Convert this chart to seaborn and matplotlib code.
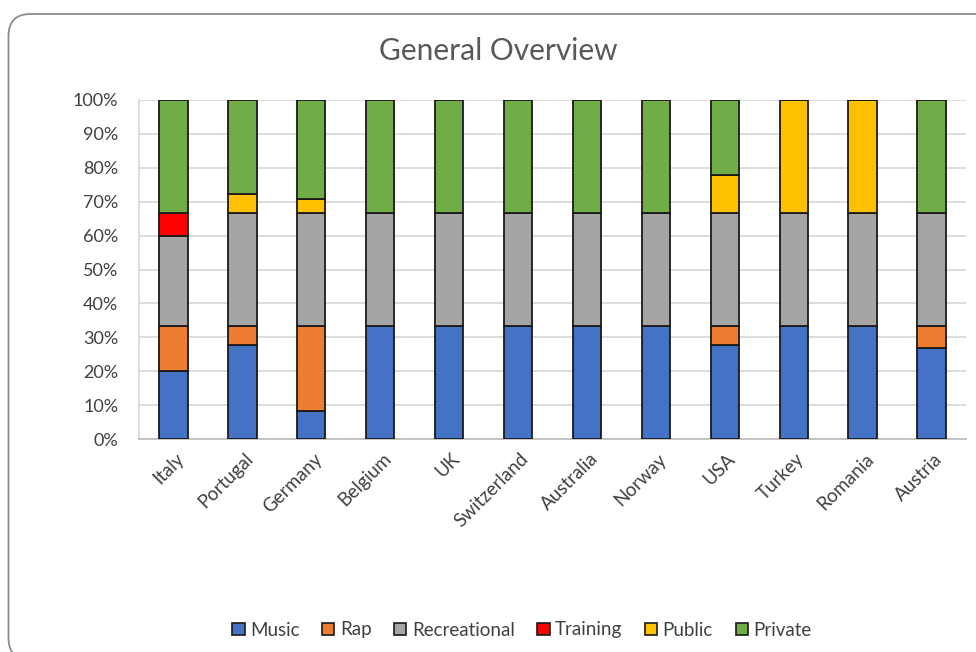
import matplotlib
matplotlib.use("Agg")
import matplotlib.pyplot as plt
from matplotlib.patches import Patch, FancyBboxPatch
from matplotlib.ticker import PercentFormatter
import matplotlib.transforms as mtrans
import numpy as np
import seaborn as sns

countries = ["Italy", "Portugal", "Germany", "Belgium", "UK", "Switzerland",
             "Australia", "Norway", "USA", "Turkey", "Romania", "Austria"]
series_names = ["Music", "Rap", "Recreational", "Training", "Public", "Private"]
music        = [20.0, 27.8, 8.3, 33.3, 33.3, 33.3, 33.3, 33.3, 27.8, 33.3, 33.3, 26.7]
rap          = [13.3, 5.5, 25.0, 0, 0, 0, 0, 0, 5.5, 0, 0, 6.7]
recreational = [26.7, 33.4, 33.4, 33.4, 33.4, 33.4, 33.4, 33.4, 33.4, 33.4, 33.4, 33.3]
training     = [6.7, 0, 0, 0, 0, 0, 0, 0, 0, 0, 0, 0]
public       = [0, 5.5, 4.2, 0, 0, 0, 0, 0, 11.1, 33.3, 33.3, 0]
private      = [33.3, 27.8, 29.1, 33.3, 33.3, 33.3, 33.3, 33.3, 22.2, 0, 0, 33.3]
colors = ["#4472C4", "#ED7D31", "#A5A5A5", "#FF0000", "#FFC000", "#70AD47"]

sns.set_style("white")
plt.rcParams["font.family"] = ["Lato", "DejaVu Sans"]

fig = plt.figure(figsize=(9.76, 6.52), dpi=100)
# outer rounded frame (in inches, so corners are circular)
frame = FancyBboxPatch((0.085, -0.08), 10.0, 6.46,
                       boxstyle="round,pad=0,rounding_size=0.22",
                       transform=fig.dpi_scale_trans, fill=False,
                       edgecolor="#8C8C8C", linewidth=1.3)
fig.patches.append(frame)

ax = fig.add_axes([139 / 976, 1 - 439 / 652, (966 - 139) / 976, (439 - 100) / 652])

all_series = [music, rap, recreational, training, public, private]
bottom = np.zeros(len(countries))
for name, vals, col in zip(series_names, all_series, colors):
    vals = np.array(vals, dtype=float)
    sns.barplot(x=countries, y=vals, bottom=bottom, color=col, ax=ax,
                width=0.41, edgecolor="#1a1a1a", linewidth=1.3,
                saturation=1, zorder=3)
    bottom = bottom + vals

ax.set_ylim(0, 100)
ax.set_xlim(-0.5, len(countries) - 0.5)
ax.set_yticks(np.arange(0, 101, 10))
ax.yaxis.set_major_formatter(PercentFormatter(decimals=0))
ax.grid(axis="y", color="#D9D9D9", linewidth=1.3, zorder=0)
ax.set_axisbelow(True)
for s in ["top", "right"]:
    ax.spines[s].set_visible(False)
ax.spines["bottom"].set_color("#BFBFBF")
ax.spines["bottom"].set_linewidth(1.3)
ax.spines["left"].set_color("#D9D9D9")
ax.spines["left"].set_linewidth(1.3)
ax.tick_params(axis="y", length=0, pad=15, labelsize=13, labelcolor="#404040")
ax.tick_params(axis="x", length=0, pad=8, labelsize=13.5, labelcolor="#404040")
for lbl in ax.get_xticklabels():
    lbl.set_rotation(45)
    lbl.set_ha("right")
    lbl.set_rotation_mode("anchor")
    lbl.set_transform(lbl.get_transform() + mtrans.ScaledTranslation(2 / 100, 0, fig.dpi_scale_trans))
ax.set_xlabel("")
ax.set_ylabel("")

fig.text(498 / 976, 1 - 51 / 652, "General Overview", ha="center", va="center",
         fontsize=21.5, color="#595959")

handles = [Patch(facecolor=c, edgecolor="#1a1a1a", linewidth=1.2, label=n)
           for n, c in zip(series_names, colors)]
fig.legend(handles=handles, loc="center", bbox_to_anchor=(522 / 976, 1 - 630 / 652),
           ncol=6, frameon=False, fontsize=13.5, handlelength=0.65, handleheight=0.65,
           handletextpad=0.3, columnspacing=1.2, labelcolor="#404040")

fig.savefig("out.png", dpi=100)
